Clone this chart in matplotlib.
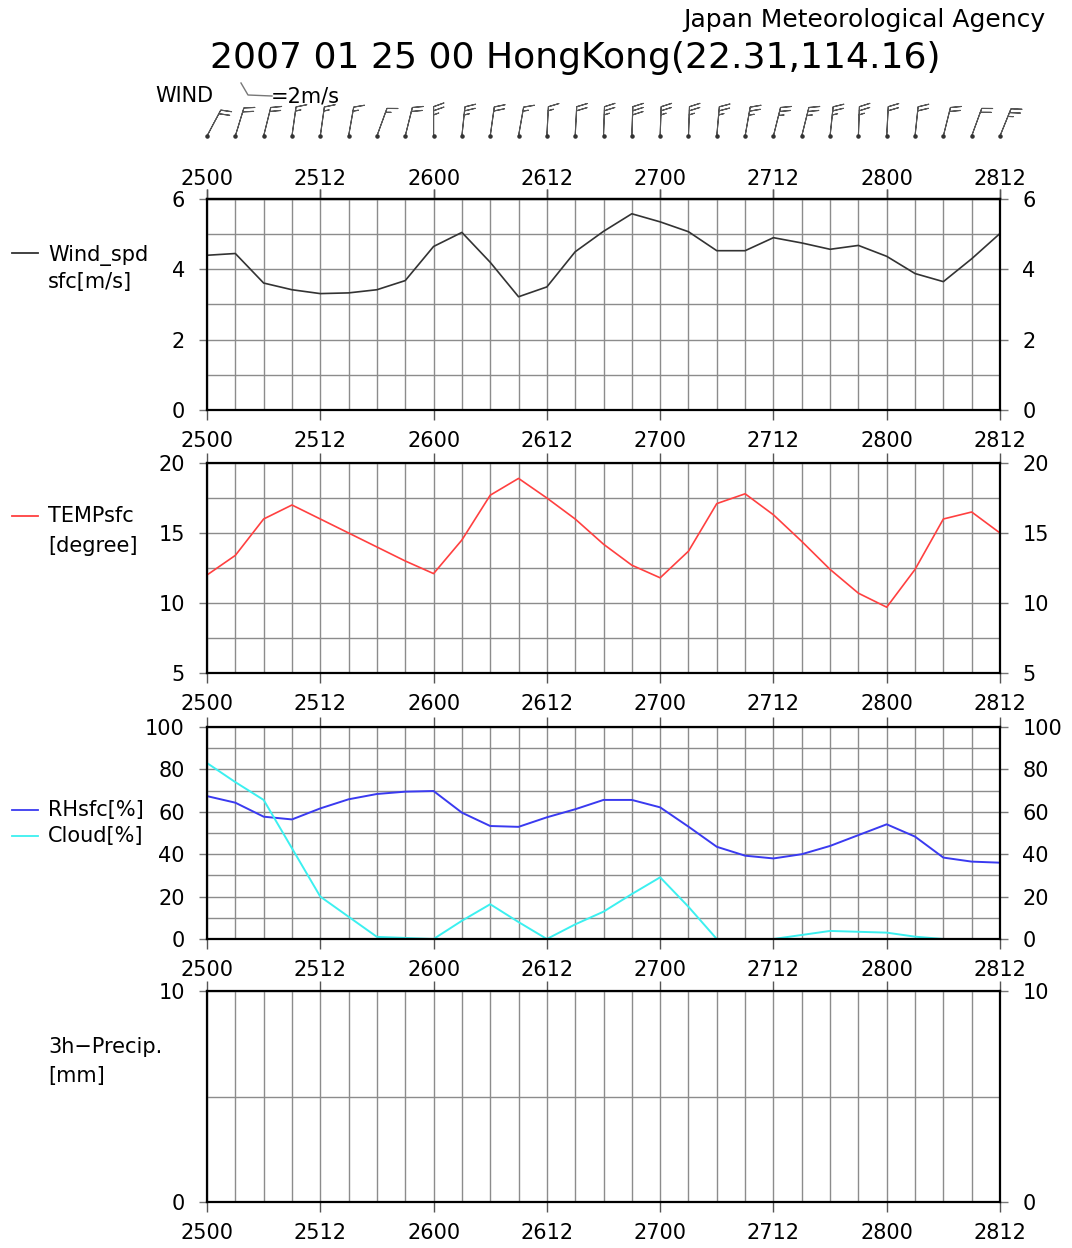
import numpy as np
import matplotlib
matplotlib.use("Agg")
import matplotlib.pyplot as plt
from matplotlib.ticker import MultipleLocator, FixedLocator
from matplotlib.lines import Line2D

plt.rcParams['font.family'] = ['DejaVu Sans']

# ---------------- data ----------------
hours = list(range(0, 85, 3))               # 2500 .. 2812, 3-hourly
tick_hours = [0, 12, 24, 36, 48, 60, 72, 84]
tick_labels = ['2500', '2512', '2600', '2612', '2700', '2712', '2800', '2812']

wind_spd = [4.40, 4.45, 3.61, 3.42, 3.31, 3.33, 3.42, 3.68, 4.65, 5.05,
            4.20, 3.22, 3.50, 4.50, 5.08, 5.58, 5.35, 5.07, 4.53, 4.53,
            4.90, 4.75, 4.57, 4.68, 4.37, 3.88, 3.65, 4.30, 5.02]
wind_dir = [28, 17, 14, 8, 8, 10, 20, 14, 0, 6,
            8, 10, 3, 3, 2, 2, 2, 2, 5, 10,
            14, 14, 6, 2, 3, 6, 14, 20, 22]
temp = [12.0, 13.4, 16.0, 17.0, 16.0, 15.0, 14.0, 13.0, 12.1, 14.5,
        17.7, 18.9, 17.5, 16.0, 14.2, 12.7, 11.8, 13.7, 17.1, 17.8,
        16.3, 14.4, 12.4, 10.7, 9.7, 12.4, 16.0, 16.5, 15.0]
rh = [67.4, 64.3, 57.7, 56.4, 61.6, 65.9, 68.4, 69.5, 69.8, 59.6,
      53.3, 52.9, 57.4, 61.2, 65.6, 65.6, 62.1, 53.0, 43.5, 39.3,
      38.0, 40.0, 43.9, 49.0, 54.1, 48.3, 38.4, 36.5, 36.0]
cloud = [83.0, 74.0, 65.6, 42.8, 20.0, 10.5, 1.0, 0.5, 0.0, 8.6,
         16.4, 8.0, 0.0, 6.9, 12.9, 21.2, 29.1, 15.2, 0.0, 0.0,
         0.0, 1.9, 3.8, 3.4, 3.0, 1.1, 0.0, 0.0, 0.0]
precip = [0.0] * 29

W, H = 1072, 1248
fig = plt.figure(figsize=(W / 100, H / 100), dpi=100)

def fx(px):
    return px / W

def fy(py):
    return 1 - py / H

x0, x1 = 207, 1000
FS = 15
GRID = '#8c8c8c'

def make_panel(top, bottom, ylim, major, minor):
    ax = fig.add_axes([fx(x0), fy(bottom), fx(x1 - x0), (bottom - top) / H])
    ax.set_xlim(0, 84)
    ax.set_ylim(*ylim)
    ax.xaxis.set_major_locator(FixedLocator(tick_hours))
    ax.xaxis.set_minor_locator(MultipleLocator(3))
    ax.set_xticks(tick_hours)
    ax.set_xticklabels(tick_labels)
    ax.yaxis.set_major_locator(MultipleLocator(major))
    ax.yaxis.set_minor_locator(MultipleLocator(minor))
    ax.grid(which='both', color=GRID, linewidth=1.0)
    ax.set_axisbelow(True)
    ax.tick_params(axis='x', which='major', direction='out', length=7, width=1,
                   color='#555555', top=True, bottom=True,
                   labeltop=False, labelbottom=True, labelsize=FS, pad=8)
    ax.tick_params(axis='x', which='minor', length=0)
    ax.tick_params(axis='y', which='major', direction='out', length=6, width=1,
                   color='#777777', left=True, right=True,
                   labelleft=True, labelright=True, labelsize=FS, pad=10)
    ax.tick_params(axis='y', which='minor', length=0)
    for s in ax.spines.values():
        s.set_linewidth(1.6)
        s.set_color('black')
    return ax

# panel 1: wind speed
ax1 = make_panel(199, 410, (0, 6), 2, 1)
ax1.plot(hours, wind_spd, color='#333333', lw=1.2)
sec = ax1.secondary_xaxis('top')
sec.set_xticks(tick_hours)
sec.set_xticklabels(tick_labels)
sec.tick_params(axis='x', direction='out', length=7, width=1, color='#555555',
                labelsize=FS, pad=0.5)
sec.spines['top'].set_linewidth(1.6)

# panel 2: temperature
ax2 = make_panel(463, 673, (5, 20), 5, 2.5)
ax2.plot(hours, temp, color='#ff4040', lw=1.2)

# panel 3: RH & cloud
ax3 = make_panel(727, 939, (0, 100), 20, 10)
ax3.plot(hours, rh, color='#3a3af0', lw=1.4)
ax3.plot(hours, cloud, color='#3cf0f0', lw=1.4)

# panel 4: precipitation
ax4 = make_panel(991, 1202, (0, 10), 10, 5)
ax4.bar(hours, precip, width=3, color='#3a3af0')

# wind barbs
axw = fig.add_axes([fx(x0), fy(145), fx(x1 - x0), 45 / H])
axw.set_xlim(0, 84)
axw.set_ylim(0, 1)
axw.axis('off')
spd = np.array(wind_spd)
d = np.deg2rad(np.array(wind_dir))
u = -spd * np.sin(d)
v = -spd * np.cos(d)
yb = np.full(len(hours), 0.2)
bb = axw.barbs(hours, yb, u, v, length=6.5, pivot='tip',
               barb_increments=dict(half=1, full=2, flag=10),
               sizes=dict(height=0.35, spacing=0.14),
               color='#555555', linewidth=0.8)
bb.set_clip_on(False)
sc = axw.scatter(hours, yb, s=5, color='#333333', zorder=3)
sc.set_clip_on(False)

# legend texts on left
def legend_line(py, color):
    fig.add_artist(Line2D([fx(12), fx(38)], [fy(py), fy(py)], color=color, lw=1.3))

legend_line(253, '#333333')
fig.text(fx(48), fy(255), 'Wind_spd', fontsize=FS, va='center', ha='left')
fig.text(fx(48), fy(282), 'sfc[m/s]', fontsize=FS, va='center', ha='left')

legend_line(516, '#ff4040')
fig.text(fx(48), fy(516), 'TEMPsfc', fontsize=FS, va='center', ha='left')
fig.text(fx(48), fy(546), '[degree]', fontsize=FS, va='center', ha='left')

legend_line(810, '#3a3af0')
fig.text(fx(48), fy(810), 'RHsfc[%]', fontsize=FS, va='center', ha='left')
legend_line(836, '#3cf0f0')
fig.text(fx(48), fy(836), 'Cloud[%]', fontsize=FS, va='center', ha='left')

fig.text(fx(48), fy(1047), '3h\u2212Precip.', fontsize=FS, va='center', ha='left')
fig.text(fx(48), fy(1076), '[mm]', fontsize=FS, va='center', ha='left')

# wind legend
fig.text(fx(155), fy(96), 'WIND', fontsize=FS, va='center', ha='left')
fig.add_artist(Line2D([fx(241), fx(248), fx(272)], [fy(83), fy(95), fy(96)],
                      color='#777777', lw=1.0))
fig.text(fx(271), fy(96), '=2m/s', fontsize=FS, va='center', ha='left')

# titles
fig.text(fx(575), fy(58), '2007 01 25 00 HongKong(22.31,114.16)', fontsize=26,
         va='center', ha='center')
fig.text(fx(1045), fy(20), 'Japan Meteorological Agency', fontsize=18,
         va='center', ha='right')

fig.savefig('out.png', dpi=100)
